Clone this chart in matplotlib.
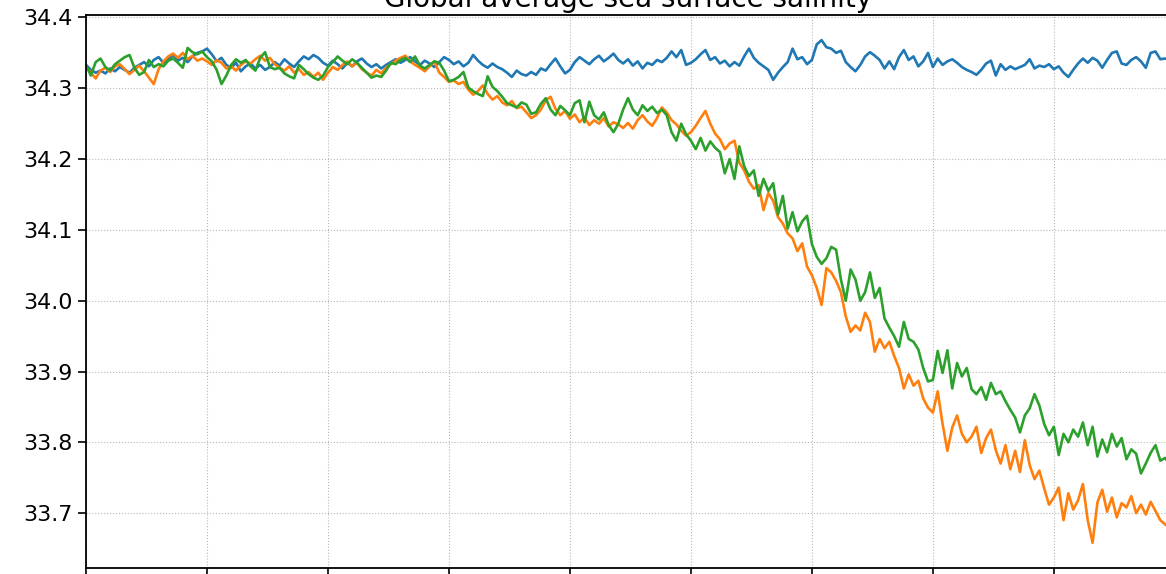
import numpy as np
import matplotlib
matplotlib.use("Agg")
import matplotlib.pyplot as plt

# Global-mean sea surface salinity (psu), one value per year, three runs
sss_control = [
    34.333, 34.326, 34.322, 34.325, 34.321, 34.328, 34.324, 34.330, 34.326, 34.322,
    34.329, 34.333, 34.337, 34.331, 34.340, 34.344, 34.336, 34.341, 34.347, 34.339,
    34.343, 34.337, 34.345, 34.350, 34.352,
    34.356, 34.348, 34.338, 34.343, 34.333, 34.329, 34.336, 34.324, 34.331, 34.335,
    34.328, 34.333, 34.326, 34.330, 34.337, 34.332, 34.341, 34.335, 34.330, 34.338,
    34.345, 34.341, 34.347, 34.343, 34.336,
    34.332, 34.339, 34.334, 34.328, 34.336, 34.331, 34.338, 34.342, 34.335, 34.330,
    34.334, 34.328, 34.333, 34.337, 34.341, 34.336, 34.340, 34.344, 34.338, 34.333,
    34.339, 34.335, 34.330, 34.337, 34.344,
    34.340, 34.334, 34.338, 34.331, 34.336, 34.347, 34.339, 34.333, 34.329, 34.335,
    34.330, 34.327, 34.322, 34.316, 34.325, 34.320, 34.318, 34.323, 34.319, 34.328,
    34.325, 34.334, 34.342, 34.331, 34.321,
    34.326, 34.337, 34.344, 34.339, 34.334, 34.341, 34.346, 34.338, 34.343, 34.349,
    34.340, 34.335, 34.341, 34.332, 34.338, 34.328, 34.336, 34.333, 34.340, 34.337,
    34.343, 34.352, 34.344, 34.354, 34.333,
    34.336, 34.341, 34.348, 34.354, 34.340, 34.344, 34.335, 34.339, 34.331, 34.337,
    34.332, 34.345, 34.356, 34.343, 34.336, 34.331, 34.326, 34.312, 34.322, 34.330,
    34.337, 34.356, 34.341, 34.344, 34.334,
    34.340, 34.362, 34.368, 34.358, 34.356, 34.350, 34.353, 34.337, 34.330, 34.324,
    34.333, 34.345, 34.351, 34.346, 34.340, 34.328, 34.338, 34.327, 34.344, 34.354,
    34.340, 34.345, 34.331, 34.338, 34.350,
    34.330, 34.342, 34.333, 34.338, 34.341, 34.336, 34.330, 34.326, 34.323, 34.319,
    34.326, 34.335, 34.339, 34.318, 34.334, 34.326, 34.331, 34.327, 34.330, 34.333,
    34.341, 34.328, 34.332, 34.330, 34.334,
    34.327, 34.331, 34.322, 34.316, 34.326, 34.335, 34.342, 34.336, 34.343, 34.339,
    34.329, 34.340, 34.350, 34.352, 34.335, 34.333, 34.340, 34.344, 34.338, 34.329,
    34.350, 34.352, 34.341, 34.342, 34.340,
]

sss_run_a = [
    34.330, 34.322, 34.314, 34.325, 34.329, 34.323, 34.331, 34.334, 34.327, 34.320,
    34.326, 34.332, 34.324, 34.315, 34.306, 34.327, 34.338, 34.345, 34.349, 34.343,
    34.350, 34.341, 34.346, 34.339, 34.342,
    34.338, 34.333, 34.340, 34.336, 34.328, 34.331, 34.325, 34.333, 34.338, 34.335,
    34.341, 34.346, 34.339, 34.343, 34.334, 34.329, 34.325, 34.331, 34.322, 34.327,
    34.319, 34.323, 34.316, 34.322, 34.312,
    34.322, 34.330, 34.326, 34.333, 34.338, 34.331, 34.336, 34.327, 34.322, 34.318,
    34.326, 34.321, 34.329, 34.334, 34.339, 34.343, 34.346, 34.338, 34.333, 34.329,
    34.324, 34.331, 34.338, 34.322, 34.316,
    34.309, 34.311, 34.306, 34.309, 34.298, 34.291, 34.296, 34.304, 34.292, 34.284,
    34.289, 34.280, 34.276, 34.282, 34.272, 34.274, 34.266, 34.258, 34.262, 34.270,
    34.283, 34.288, 34.271, 34.262, 34.268,
    34.257, 34.263, 34.252, 34.259, 34.248, 34.255, 34.250, 34.258, 34.246, 34.252,
    34.249, 34.244, 34.251, 34.243, 34.255, 34.262, 34.253, 34.247, 34.258, 34.273,
    34.266, 34.255, 34.249, 34.240, 34.233,
    34.238, 34.247, 34.258, 34.268, 34.250, 34.236, 34.228, 34.214, 34.222, 34.226,
    34.195, 34.184, 34.168, 34.158, 34.163, 34.128, 34.152, 34.141, 34.118, 34.109,
    34.095, 34.088, 34.070, 34.081, 34.048,
    34.036, 34.018, 33.994, 34.046, 34.040, 34.028, 34.012, 33.978, 33.956, 33.965,
    33.958, 33.983, 33.970, 33.928, 33.946, 33.933, 33.942, 33.922, 33.905, 33.876,
    33.896, 33.880, 33.887, 33.862, 33.849,
    33.842, 33.872, 33.826, 33.788, 33.821, 33.838, 33.812, 33.800, 33.808, 33.822,
    33.785, 33.806, 33.818, 33.789, 33.770, 33.796, 33.762, 33.788, 33.758, 33.803,
    33.768, 33.748, 33.760, 33.735, 33.712,
    33.722, 33.736, 33.690, 33.728, 33.705, 33.718, 33.741, 33.690, 33.658, 33.715,
    33.733, 33.702, 33.722, 33.694, 33.714, 33.708, 33.724, 33.700, 33.712, 33.698,
    33.716, 33.703, 33.690, 33.684, 33.679,
]

sss_run_b = [
    34.333, 34.318, 34.337, 34.342, 34.330, 34.325, 34.334, 34.339, 34.344, 34.347,
    34.329, 34.319, 34.323, 34.340, 34.330, 34.334, 34.331, 34.339, 34.342, 34.336,
    34.329, 34.357, 34.351, 34.348, 34.352,
    34.344, 34.338, 34.326, 34.306, 34.318, 34.333, 34.341, 34.336, 34.340, 34.331,
    34.325, 34.343, 34.351, 34.330, 34.327, 34.329, 34.321, 34.317, 34.314, 34.333,
    34.327, 34.320, 34.315, 34.312, 34.318,
    34.330, 34.337, 34.345, 34.339, 34.334, 34.341, 34.336, 34.329, 34.322, 34.315,
    34.318, 34.316, 34.325, 34.336, 34.334, 34.340, 34.343, 34.337, 34.345, 34.332,
    34.328, 34.333, 34.338, 34.336, 34.325,
    34.310, 34.312, 34.316, 34.323, 34.301, 34.296, 34.292, 34.289, 34.317, 34.302,
    34.296, 34.288, 34.279, 34.276, 34.273, 34.280, 34.277, 34.264, 34.266, 34.278,
    34.286, 34.270, 34.262, 34.275, 34.269,
    34.262, 34.279, 34.283, 34.252, 34.281, 34.262, 34.256, 34.266, 34.248, 34.238,
    34.250, 34.270, 34.286, 34.270, 34.262, 34.276, 34.268, 34.274, 34.265, 34.270,
    34.262, 34.238, 34.226, 34.250, 34.235,
    34.226, 34.214, 34.230, 34.212, 34.225, 34.216, 34.210, 34.180, 34.200, 34.172,
    34.218, 34.190, 34.176, 34.184, 34.148, 34.172, 34.155, 34.166, 34.122, 34.148,
    34.102, 34.125, 34.098, 34.112, 34.120,
    34.080, 34.062, 34.052, 34.060, 34.076, 34.072, 34.030, 34.000, 34.044, 34.030,
    34.000, 34.012, 34.040, 34.004, 34.018, 33.975, 33.962, 33.950, 33.935, 33.970,
    33.946, 33.942, 33.931, 33.905, 33.886,
    33.888, 33.929, 33.898, 33.930, 33.876, 33.912, 33.893, 33.905, 33.875, 33.868,
    33.878, 33.860, 33.884, 33.868, 33.872, 33.858, 33.846, 33.835, 33.814, 33.838,
    33.848, 33.868, 33.852, 33.826, 33.810,
    33.822, 33.782, 33.812, 33.800, 33.818, 33.808, 33.828, 33.796, 33.822, 33.780,
    33.804, 33.786, 33.812, 33.794, 33.806, 33.776, 33.790, 33.784, 33.756, 33.770,
    33.785, 33.796, 33.774, 33.778, 33.768,
]

years = np.arange(len(sss_control))
year_ticks = np.arange(0, len(sss_control), 25)

fig = plt.figure(figsize=(11.66, 5.74), dpi=100)
ax = fig.add_axes([86 / 1166, 6 / 574, 1084 / 1166, 553 / 574])

ax.plot(years, sss_control, color="#1f77b4", lw=1.9)
ax.plot(years, sss_run_a, color="#ff7f0e", lw=1.9)
ax.plot(years, sss_run_b, color="#2ca02c", lw=1.9)

ax.set_xlim(years[0], years[-1])
ax.set_xticks(year_ticks)
ax.set_xticklabels([])
ax.set_yticks([33.7, 33.8, 33.9, 34.0, 34.1, 34.2, 34.3, 34.4])
ax.tick_params(axis="both", labelsize=16, length=6, width=1.2)
ax.grid(True, linestyle=":", color="#b8b8b8", linewidth=0.8)
for sp in ax.spines.values():
    sp.set_linewidth(1.3)

ax.set_title("Global average sea surface salinity", fontsize=20)

fig.savefig("out.png", dpi=100)
